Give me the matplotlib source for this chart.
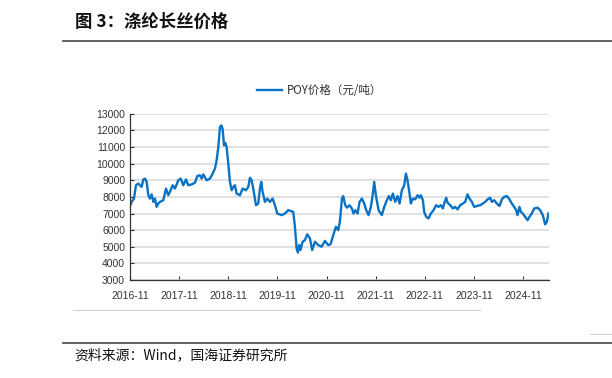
#!/usr/bin/env python3
import numpy as np
import matplotlib
matplotlib.use("Agg")
import matplotlib.pyplot as plt
from matplotlib.lines import Line2D

plt.rcParams['font.family'] = ['Liberation Sans', 'Noto Sans CJK SC', 'DejaVu Sans']

# years since 2016-11, POY price (yuan/ton)
years = [0.000, 0.034, 0.081, 0.122, 0.169, 0.203, 0.237, 0.271, 0.305, 0.339,
         0.373, 0.407, 0.441, 0.475, 0.508, 0.542, 0.576, 0.610, 0.678, 0.732,
         0.780, 0.827, 0.868, 0.915, 0.983, 1.031, 1.085, 1.139, 1.186, 1.254,
         1.322, 1.369, 1.424, 1.458, 1.492, 1.559, 1.627, 1.681, 1.729, 1.763,
         1.797, 1.831, 1.858, 1.885, 1.912, 1.939, 1.966, 2.000, 2.034, 2.068,
         2.102, 2.136, 2.169, 2.237, 2.292, 2.359, 2.407, 2.441, 2.475, 2.508,
         2.563, 2.610, 2.644, 2.671, 2.698, 2.746, 2.793, 2.847, 2.902, 2.949,
         2.997, 3.085, 3.153, 3.220, 3.322, 3.356, 3.390, 3.417, 3.444, 3.471,
         3.512, 3.559, 3.607, 3.661, 3.708, 3.763, 3.831, 3.898, 3.966, 4.034,
         4.081, 4.136, 4.190, 4.237, 4.271, 4.312, 4.339, 4.380, 4.414, 4.468,
         4.515, 4.549, 4.583, 4.631, 4.671, 4.719, 4.766, 4.807, 4.854, 4.902,
         4.942, 4.969, 5.003, 5.058, 5.125, 5.173, 5.227, 5.268, 5.308, 5.349,
         5.397, 5.444, 5.485, 5.532, 5.580, 5.614, 5.647, 5.688, 5.715, 5.756,
         5.803, 5.851, 5.892, 5.919, 5.959, 5.986, 6.027, 6.075, 6.122, 6.176,
         6.231, 6.278, 6.325, 6.366, 6.393, 6.434, 6.461, 6.515, 6.569, 6.617,
         6.664, 6.719, 6.773, 6.820, 6.868, 6.908, 6.956, 7.003, 7.058, 7.125,
         7.180, 7.227, 7.275, 7.329, 7.363, 7.410, 7.464, 7.519, 7.566, 7.614,
         7.668, 7.722, 7.769, 7.817, 7.858, 7.885, 7.925, 7.953, 7.993, 8.041,
         8.088, 8.129, 8.176, 8.224, 8.292, 8.346, 8.400, 8.447, 8.481, 8.515]
poy_price = [7450, 7700, 7900, 8700, 8800, 8700, 8600, 9050, 9100, 8900,
             8100, 7900, 8150, 7700, 7900, 7400, 7600, 7700, 7800, 8500,
             8100, 8400, 8700, 8500, 9000, 9100, 8700, 9050, 8700, 8750,
             8850, 9250, 9300, 9100, 9350, 9000, 9100, 9400, 9700, 10200,
             11000, 12200, 12300, 12100, 11100, 11250, 11000, 10000, 8900, 8400,
             8600, 8700, 8200, 8100, 8500, 8400, 8600, 9150, 9000, 8500,
             7500, 7600, 8500, 8900, 8300, 7700, 7900, 7700, 7900, 7500,
             7000, 6900, 7000, 7200, 7100, 6200, 4900, 4650, 5100, 4800,
             5300, 5400, 5750, 5500, 4800, 5300, 5100, 5000, 5350, 5100,
             5150, 5700, 6200, 6000, 6500, 7900, 8050, 7500, 7350, 7500,
             7300, 7000, 7200, 7000, 7700, 7900, 7600, 7200, 6900, 7400,
             8200, 8900, 8100, 7200, 6900, 7400, 7800, 8050, 7800, 8200,
             7700, 8050, 7600, 8400, 8700, 9400, 9000, 8200, 7600, 7900,
             7850, 8100, 7950, 8100, 7800, 7100, 6800, 6700, 7000, 7200,
             7500, 7400, 7500, 7300, 7600, 7950, 7650, 7500, 7300, 7400,
             7250, 7500, 7600, 7700, 8150, 7900, 7700, 7400, 7450, 7500,
             7600, 7700, 7850, 7950, 7700, 7800, 7600, 7450, 7850, 8000,
             8050, 7850, 7600, 7400, 7200, 6900, 7400, 7100, 7000, 6800,
             6600, 6800, 7000, 7300, 7350, 7200, 6900, 6350, 6500, 7000]

tick_years = [0, 1, 2, 3, 4, 5, 6, 7, 8]
tick_labels = ['2016-11', '2017-11', '2018-11', '2019-11', '2020-11',
               '2021-11', '2022-11', '2023-11', '2024-11']
y_ticks = [3000, 4000, 5000, 6000, 7000, 8000, 9000, 10000, 11000, 12000, 13000]

fig = plt.figure(figsize=(6.12, 3.78), dpi=100)
ax = fig.add_axes([0.2124, 0.2593, 0.6842, 0.4397])

ax.plot(years, poy_price, color='#0a72c4', lw=1.7, label='POY价格（元/吨）')
ax.set_xlim(0, 8.52)
ax.set_ylim(3000, 13000)
ax.set_yticks(y_ticks)
ax.set_xticks(tick_years)
ax.set_xticklabels(tick_labels)
ax.yaxis.grid(True, color='#d9d9d9', lw=1.1)
ax.set_axisbelow(True)
for s in ['top', 'right']:
    ax.spines[s].set_visible(False)
for s in ['left', 'bottom']:
    ax.spines[s].set_color('#333333')
    ax.spines[s].set_linewidth(0.9)
ax.tick_params(axis='both', direction='in', length=3, width=0.8, color='#333333',
               labelsize=7.5, labelcolor='#333333')
ax.tick_params(axis='x', pad=8)

ax.legend(loc='center', bbox_to_anchor=(0.522, 0.760), bbox_transform=fig.transFigure,
          frameon=False, handlelength=2.2, handletextpad=0.4,
          prop={'family': ['Noto Sans CJK SC'], 'size': 8.3}, labelcolor='#333333')

# header / footer
fig.text(75 / 612, 1 - 22 / 378, '图 3：涤纶长丝价格', fontsize=12.5, fontweight='bold',
         va='center', ha='left', family=['Noto Sans CJK SC'], color='#111111')
fig.add_artist(Line2D([63 / 612, 1], [1 - 40.7 / 378] * 2, color='#555555', lw=1.3))
fig.add_artist(Line2D([73 / 612, 480 / 612], [1 - 310 / 378] * 2, color='#cccccc', lw=0.7))
fig.add_artist(Line2D([590 / 612, 1], [1 - 334 / 378] * 2, color='#cccccc', lw=0.7))
fig.add_artist(Line2D([63 / 612, 1], [1 - 342.7 / 378] * 2, color='#555555', lw=1.3))
fig.text(74 / 612, 1 - 355 / 378, '资料来源：Wind，国海证券研究所', fontsize=10,
         va='center', ha='left', family=['Noto Sans CJK SC'], color='#111111')

fig.savefig('out.png', dpi=100)
